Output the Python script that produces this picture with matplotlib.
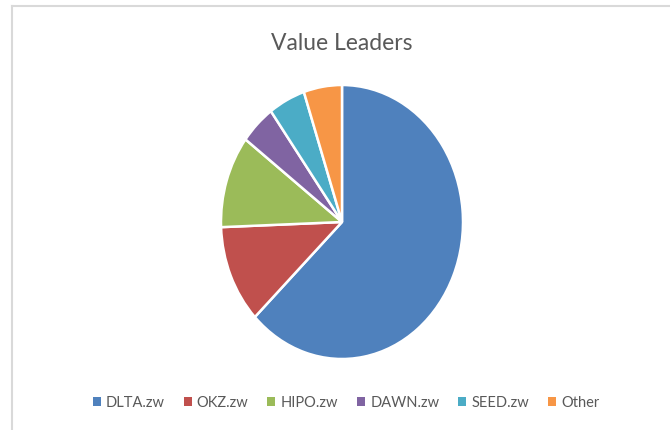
import matplotlib.pyplot as plt
from matplotlib.patches import Patch
from matplotlib.lines import Line2D

# Share of value (percent)
labels = ['DLTA.zw', 'OKZ.zw', 'HIPO.zw', 'DAWN.zw', 'SEED.zw', 'Other']
shares = [62.8, 11.6, 10.9, 4.7, 4.9, 5.1]
colors = ['#4F81BD', '#C0504D', '#9BBB59', '#8064A2', '#4BACC6', '#F79646']

plt.rcParams['font.family'] = ['Lato', 'DejaVu Sans']
text_color = '#595959'

fig = plt.figure(figsize=(6.7, 4.3), dpi=100)

# chart frame (only left and top edges visible in the screenshot)
fig.add_artist(Line2D([12 / 670, 12 / 670], [0, 1 - 6 / 430], color='#D9D9D9', lw=1.5))
fig.add_artist(Line2D([12 / 670, 1], [1 - 6 / 430, 1 - 6 / 430], color='#D9D9D9', lw=1.5))

# pie is stretched vertically in the reference, so use an auto-aspect axes
ax = fig.add_axes([221 / 670, 71 / 430, 242 / 670, 274 / 430])
ax.pie(shares, colors=colors, startangle=90, counterclock=False,
       wedgeprops={'edgecolor': 'white', 'linewidth': 1.8})
ax.set_aspect('auto')
ax.set_xlim(-1.0, 1.0)
ax.set_ylim(-1.0, 1.0)
ax.axis('off')

fig.text(342 / 670, 1 - 43 / 430, 'Value Leaders', ha='center', va='center',
         fontsize=16.5, color=text_color)

handles = [Patch(facecolor=c, edgecolor='none') for c in colors]
fig.legend(handles, labels, loc='center', bbox_to_anchor=(346 / 670, 1 - 403 / 430),
           ncol=6, frameon=False, fontsize=10.5, labelcolor=text_color,
           handlelength=0.55, handleheight=0.55, handletextpad=0.35, columnspacing=1.3)

fig.savefig('out.png', dpi=100)
